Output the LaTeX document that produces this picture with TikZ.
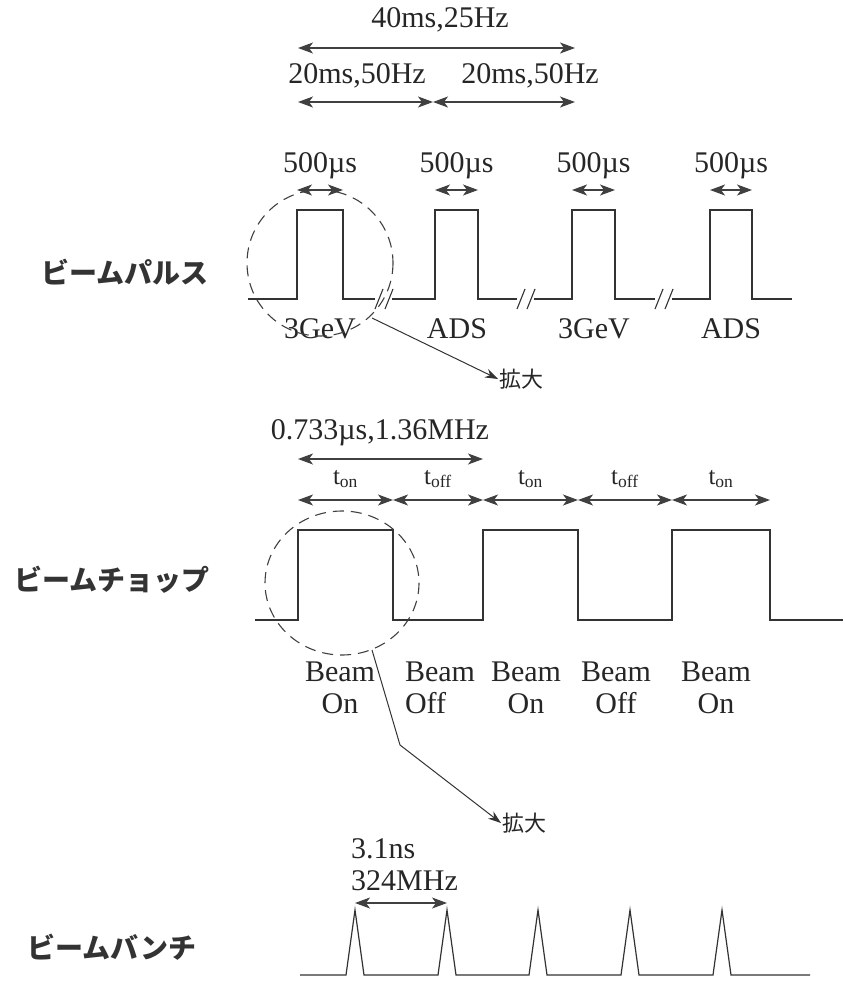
\documentclass[tikz,border=0pt]{standalone}
\usepackage{fontspec}
\setmainfont{Liberation Serif}
\newfontfamily\jpfont{Noto Sans CJK JP}
\usetikzlibrary{arrows.meta,calc}

\begin{document}
\begin{tikzpicture}[
    x=1pt, y=-1pt,
    every node/.style={font=\fontsize{30}{32}\selectfont, text=black!85, inner sep=1pt},
    rowlabel/.style={font=\jpfont\bfseries\fontsize{28}{30}\selectfont, text=black!80},
    zoomlabel/.style={font=\jpfont\fontsize{22}{24}\selectfont, anchor=west},
    tlabel/.style={font=\fontsize{25}{27}\selectfont},
    dim/.style={{Stealth[length=15pt,width=11pt,inset=4pt]}-{Stealth[length=15pt,width=11pt,inset=4pt]}, line width=1.2pt, draw=black!75},
    sig/.style={line width=1.2pt, draw=black!80, line join=miter},
    brk/.style={line width=1.1pt, draw=black!80},
    lens/.style={dashed, dash pattern=on 11pt off 7pt, line width=1.1pt, draw=black!75},
    zoomarr/.style={-{Stealth[length=13pt,width=9pt]}, line width=1pt, draw=black!80}
]
\useasboundingbox (0,0) rectangle (844,987);

% row names
\node[rowlabel] (rowPulse) at (125,272) {ビームパルス};
\node[rowlabel] (rowChop) at (112,580) {ビームチョップ};
\node[rowlabel] (rowBunch) at (112,947) {ビームバンチ};

% period arrows on top
\coordinate (per0) at (298,48);
\coordinate (per1) at (575,48);
\coordinate (half0) at (298,102);
\coordinate (half1) at (433,102);
\coordinate (half2) at (575,102);
\node (perText) at (440,20) {40ms,25Hz};
\node (halfTextA) at (357,76) {20ms,50Hz};
\node (halfTextB) at (530,76) {20ms,50Hz};
\draw[dim] (per0) -- (per1);
\draw[dim] (half0) -- (half1);
\draw[dim] (half1) -- (half2);

% beam pulses
\draw[sig] (248,299) -- (297,299) -- (297,210) -- (343,210) -- (343,299) -- (375,299);
\draw[sig] (392,299) -- (435,299) -- (435,210) -- (478,210) -- (478,299) -- (517,299);
\draw[sig] (534,299) -- (572,299) -- (572,210) -- (615,210) -- (615,299) -- (655,299);
\draw[sig] (672,299) -- (710,299) -- (710,210) -- (752,210) -- (752,299) -- (792,299);
\foreach \bx in {379,389,521,531,659,669}
    \draw[brk] (\bx-4,309) -- (\bx+4,289);

% pulse widths
\foreach \pl/\pr [count=\i] in {297/343,435/478,572/615,710/752} {
    \coordinate (pw\i a) at (\pl,190);
    \coordinate (pw\i b) at (\pr,190);
    \draw[dim] (pw\i a) -- (pw\i b);
    \node (pwText\i) at ({(\pl+\pr)/2},166) {500µs};
}

% pulse kinds
\node (kind1) at (320,329) {3GeV};
\node (kind2) at (457,329) {ADS};
\node (kind3) at (594,329) {3GeV};
\node (kind4) at (731,329) {ADS};

% zoom into one pulse
\draw[lens] (320,263) circle (73);
\coordinate (zoomA) at (372,318);
\node[zoomlabel] (zoomTextA) at (498,379) {拡大};
\draw[zoomarr] (zoomA) -- (zoomTextA.west);

% chopper period
\coordinate (chop0) at (298,459);
\coordinate (chop1) at (483,459);
\node (chopText) at (380,433) {0.733µs,1.36MHz};
\draw[dim] (chop0) -- (chop1);

% on/off lengths
\foreach \cx [count=\i] in {298,393,483,578,672,770}
    \coordinate (tc\i) at (\cx,500);
\foreach \i/\j/\txt in {1/2/on,2/3/off,3/4/on,4/5/off,5/6/on} {
    \draw[dim] (tc\i) -- (tc\j);
    \node[tlabel] (tText\i) at ($ (tc\i)!0.5!(tc\j) + (0,-21) $) {t\textsubscript{\txt}};
}

% chopped beam
\draw[sig] (255,620) -- (298,620) -- (298,530) -- (393,530) -- (393,620) -- (483,620)
    -- (483,530) -- (578,530) -- (578,620) -- (672,620) -- (672,530) -- (770,530)
    -- (770,620) -- (843,620);

\node[align=center] (state1) at (340,688) {Beam\\On};
\node[align=left] (state2) at (440,688) {Beam\\Off};
\node[align=center] (state3) at (526,688) {Beam\\On};
\node[align=center] (state4) at (616,688) {Beam\\Off};
\node[align=center] (state5) at (716,688) {Beam\\On};

% zoom into one chop
\draw[lens] (342,583) ellipse (77 and 72);
\coordinate (zoomB) at (372,650);
\coordinate (bendB) at (400,745);
\node[zoomlabel] (zoomTextB) at (501,823) {拡大};
\draw[zoomarr] (zoomB) -- (bendB) -- (zoomTextB.west);

% bunch spacing
\node[anchor=west, align=left] (bunchText) at (350,865) {3.1ns\\324MHz};
\coordinate (bun0) at (355,903);
\coordinate (bun1) at (447,903);
\draw[dim] (bun0) -- (bun1);

% bunches
\draw[sig] (300,975)
    \foreach \px in {355,447,538,630,722} { -- (\px-9,975) -- (\px,910) -- (\px+9,975) }
    -- (810,975);
\end{tikzpicture}
\end{document}
